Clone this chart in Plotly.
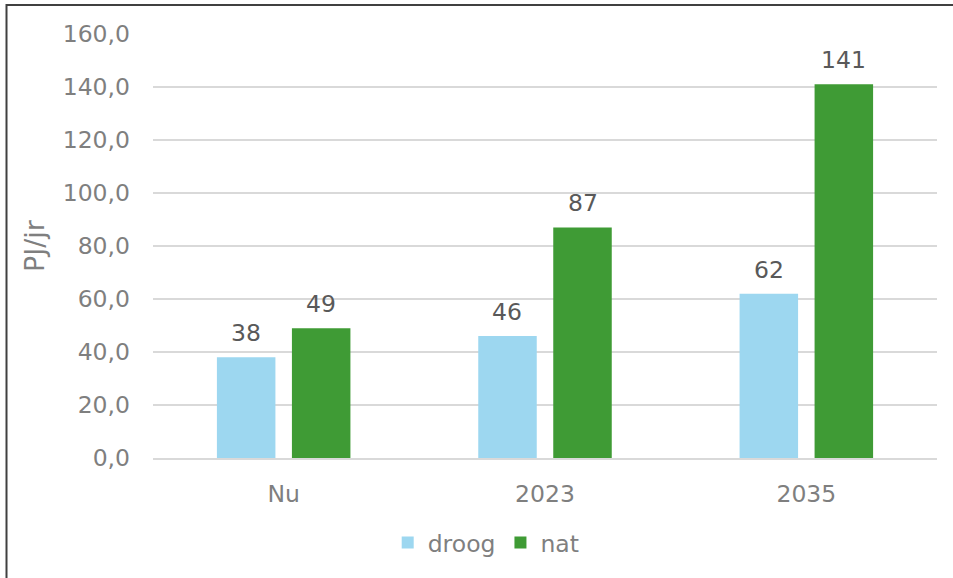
import plotly.graph_objects as go

categories = ["Nu", "2023", "2035"]
droog = [38, 46, 62]
nat = [49, 87, 141]
y_ticks = [0, 20, 40, 60, 80, 100, 120, 140, 160]

FONT = "DejaVu Sans"
FS = 23.5
W, H = 953, 578
L, R, T, B = 153, 16, 34, 120
pw, ph = W - L - R, H - T - B

fig = go.Figure()
fig.add_trace(go.Bar(name="droog", x=categories, y=droog,
                     marker=dict(color="#9dd7f0", line=dict(width=0))))
fig.add_trace(go.Bar(name="nat", x=categories, y=nat,
                     marker=dict(color="#3f9b35", line=dict(width=0))))

# value labels above the bars (category axis positions are indices)
slot = pw / len(categories) * (1 - 0.426) / 2
for vals, shift in ((droog, -slot / 2), (nat, slot / 2)):
    for i, v in enumerate(vals):
        fig.add_annotation(x=i, y=v, xref="x", yref="y", text=f"{v:.0f}",
                           showarrow=False, xshift=shift, yshift=8,
                           yanchor="bottom",
                           font=dict(family=FONT, size=FS, color="#595959"))

# outer frame
fig.add_shape(type="rect", xref="paper", yref="paper",
              x0=(6.5 - L) / pw, x1=2, y0=-2, y1=(H - B - 5) / ph,
              line=dict(color="#404040", width=2), fillcolor="rgba(0,0,0,0)")

fig.update_layout(
    width=W, height=H,
    margin=dict(l=L, r=R, t=T, b=B),
    paper_bgcolor="white", plot_bgcolor="white",
    barmode="group", bargap=0.426, bargroupgap=0.22,
    separators=",.",
    font=dict(family=FONT, size=FS, color="#7f7f7f"),
    showlegend=True,
    legend=dict(orientation="h", x=0.425, xanchor="center", y=-0.148,
                yanchor="top", font=dict(family=FONT, size=FS, color="#7f7f7f"),
                itemwidth=30, traceorder="normal"),
    yaxis=dict(range=[0, 160], tickvals=y_ticks, tickformat=".1f",
               showgrid=True, gridcolor="#d9d9d9", gridwidth=2,
               zeroline=False, showline=False, ticks="",
               ticklabelstandoff=22,
               title=dict(text="PJ/jr", standoff=10,
                          font=dict(family=FONT, size=27, color="#7f7f7f"))),
    xaxis=dict(type="category", range=[-0.5, 2.5], showline=True,
               linecolor="#d9d9d9", linewidth=2, ticks="",
               ticklabelstandoff=14, showgrid=False),
)

fig.write_html("out.html")
